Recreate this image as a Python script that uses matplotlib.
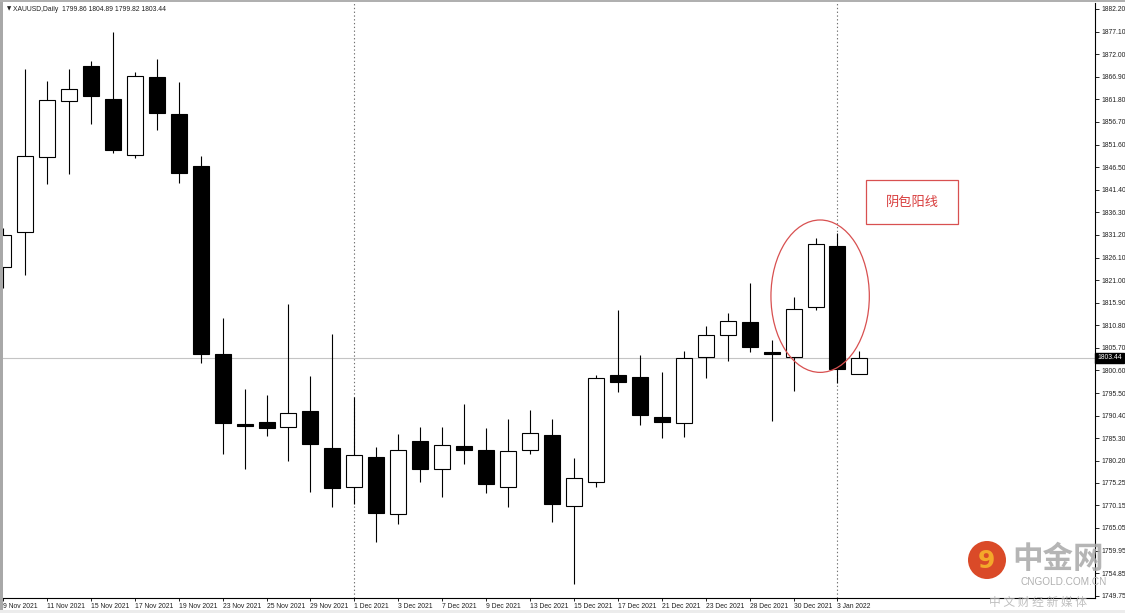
import matplotlib
matplotlib.use("Agg")
import matplotlib.pyplot as plt
import matplotlib.transforms as mtransforms
from matplotlib.patches import Ellipse, Rectangle

plt.rcParams['font.family'] = ['Liberation Sans', 'Noto Sans CJK SC', 'DejaVu Sans']

# ============================
# DATA (XAUUSD Daily)
# ============================
dates = ["9 Nov 2021", "10 Nov 2021", "11 Nov 2021", "12 Nov 2021", "15 Nov 2021",
         "16 Nov 2021", "17 Nov 2021", "18 Nov 2021", "19 Nov 2021", "22 Nov 2021",
         "23 Nov 2021", "24 Nov 2021", "25 Nov 2021", "26 Nov 2021", "29 Nov 2021",
         "30 Nov 2021", "1 Dec 2021", "2 Dec 2021", "3 Dec 2021", "6 Dec 2021",
         "7 Dec 2021", "8 Dec 2021", "9 Dec 2021", "10 Dec 2021", "13 Dec 2021",
         "14 Dec 2021", "15 Dec 2021", "16 Dec 2021", "17 Dec 2021", "20 Dec 2021",
         "21 Dec 2021", "22 Dec 2021", "23 Dec 2021", "24 Dec 2021", "28 Dec 2021",
         "29 Dec 2021", "30 Dec 2021", "31 Dec 2021", "3 Jan 2022", "4 Jan 2022"]

opens = [1823.96, 1831.86, 1848.79, 1861.50, 1869.40, 1861.95, 1849.31, 1866.78, 1858.57, 1846.76,
         1804.32, 1788.52, 1788.91, 1787.78, 1791.52, 1783.04, 1774.37, 1781.14, 1768.14, 1784.75,
         1778.30, 1783.62, 1782.59, 1774.23, 1782.59, 1786.11, 1770.01, 1775.36, 1799.58, 1799.13,
         1790.03, 1788.68, 1803.71, 1808.54, 1811.48, 1804.84, 1803.71, 1815.00, 1828.70, 1799.86]
highs = [1832.76, 1868.66, 1866.02, 1868.66, 1870.53, 1877.08, 1867.91, 1870.85, 1865.72, 1849.02,
         1812.38, 1796.35, 1795.14, 1815.54, 1799.36, 1808.77, 1794.55, 1783.40, 1786.26, 1787.78,
         1787.91, 1793.04, 1787.69, 1789.65, 1791.68, 1789.65, 1780.85, 1799.58, 1814.26, 1804.10,
         1800.33, 1805.00, 1810.71, 1813.51, 1820.28, 1807.48, 1817.12, 1830.44, 1831.57, 1804.89]
lows = [1819.22, 1822.16, 1842.77, 1844.95, 1856.17, 1849.63, 1848.63, 1854.89, 1842.86, 1802.22,
        1781.75, 1778.30, 1785.81, 1780.24, 1773.24, 1769.72, 1770.50, 1761.82, 1765.95, 1775.36,
        1772.11, 1779.56, 1772.88, 1769.85, 1781.68, 1766.47, 1752.41, 1774.23, 1795.81, 1788.30,
        1785.36, 1785.66, 1798.84, 1802.81, 1804.84, 1789.27, 1796.04, 1814.26, 1797.71, 1799.82]
closes = [1831.18, 1849.02, 1861.66, 1864.07, 1862.56, 1850.30, 1867.01, 1858.66, 1845.25, 1804.32,
          1788.68, 1788.07, 1787.69, 1790.94, 1784.01, 1774.01, 1781.46, 1768.50, 1782.59, 1778.36,
          1783.78, 1782.65, 1774.98, 1782.36, 1786.42, 1770.53, 1776.40, 1798.97, 1797.93, 1790.49,
          1788.91, 1803.35, 1808.54, 1811.77, 1805.97, 1804.39, 1814.41, 1829.15, 1800.94, 1803.44]

price_ticks = [1882.20, 1877.10, 1872.00, 1866.90, 1861.80, 1856.70, 1851.60, 1846.50, 1841.40,
               1836.30, 1831.20, 1826.10, 1821.00, 1815.90, 1810.80, 1805.70, 1800.60, 1795.50,
               1790.40, 1785.30, 1780.20, 1775.25, 1770.15, 1765.05, 1759.95, 1754.85, 1749.75]

separators = ["1 Dec 2021", "3 Jan 2022"]
pattern_bars = ["31 Dec 2021", "3 Jan 2022"]
pattern_label = "阴包阳线"
last_price = closes[-1]

# ============================
# FIGURE
# ============================
W, H = 1125, 613
fig = plt.figure(figsize=(W / 100, H / 100), dpi=100)
fig.patch.set_facecolor("white")

ax_l, ax_r, ax_t, ax_b = 3, 1095, 3, 598
ax = fig.add_axes([ax_l / W, (H - ax_b) / H, (ax_r - ax_l) / W, (ax_b - ax_t) / H])

x = list(range(len(dates)))
body_w = 0.73

# wicks
ax.vlines(x, lows, highs, color="black", lw=0.8, zorder=2)

# bodies
for i in x:
    o, c = opens[i], closes[i]
    lo = min(o, c)
    h = max(abs(c - o), 0.25)
    fc = "white" if c >= o else "black"
    ax.bar(i, h, bottom=lo, width=body_w, facecolor=fc, edgecolor="black", lw=0.8, zorder=3)

# current price line
ax.axhline(last_price, color="#c4c4c4", lw=0.8, zorder=1)

# period separators
for d in separators:
    ax.axvline(dates.index(d), color="#707070", lw=0.8, ls=(0, (1.2, 2.2)), zorder=1)

ax.set_xlim(-0.0, (ax_r - ax_l - 0.5) / 21.95)
ax.set_ylim(1749.24, 1883.55)

# axes style
for s in ["top", "left"]:
    ax.spines[s].set_visible(False)
ax.spines["right"].set_color("black")
ax.spines["bottom"].set_color("black")
ax.spines["right"].set_linewidth(0.8)
ax.spines["bottom"].set_linewidth(0.8)

ax.yaxis.tick_right()
ax.set_yticks(price_ticks)
ax.set_yticklabels([f"{v:.2f}" for v in price_ticks])
ax.tick_params(axis="y", direction="out", length=3, width=0.6, labelsize=4.9, pad=1.5,
               labelcolor="#202020")

ax.set_xticks(x[::2])
ax.set_xticklabels(dates[::2], ha="left")
ax.tick_params(axis="x", direction="out", length=2, width=0.6, labelsize=4.9, pad=1.5,
               labelcolor="#202020")

# price label on axis
trans = mtransforms.blended_transform_factory(ax.transAxes, ax.transData)
ax.text(1.002, last_price, f"{last_price:.2f}", transform=trans, ha="left", va="center",
        fontsize=4.9, color="white",
        bbox=dict(boxstyle="square,pad=0.25", facecolor="black", edgecolor="black"))

# header
ax.text(0.004, 0.994, "▼", transform=ax.transAxes, ha="left", va="top", fontsize=4,
        family=["DejaVu Sans"], color="#202020")
ax.text(0.0095, 0.995,
        f"XAUUSD,Daily  {opens[-1]:.2f} {highs[-1]:.2f} {lows[-1]:.2f} {closes[-1]:.2f}",
        transform=ax.transAxes, ha="left", va="top", fontsize=4.9, color="#202020")

# engulfing pattern annotation
i0, i1 = dates.index(pattern_bars[0]), dates.index(pattern_bars[1])
ell_cx = (i0 + i1) / 2 - 0.29
ax.add_patch(Ellipse((ell_cx, 1817.37), width=4.48, height=34.4, fill=False,
                     edgecolor="#d85050", lw=0.9, zorder=4))
ax.add_patch(Rectangle((39.29, 1833.67), 4.2, 9.93, facecolor="white",
                       edgecolor="#d85050", lw=0.9, zorder=4))
ax.text(39.29 + 2.1, 1838.5, pattern_label, ha="center", va="center", fontsize=9.5,
        color="#d83c3c", family=["Noto Sans CJK SC"], zorder=5)

# frame borders
fig.patches.append(Rectangle((0, 0), 2.5 / W, 1, transform=fig.transFigure,
                             facecolor="#a8a8a8", edgecolor="none"))
fig.patches.append(Rectangle((0, 1 - 2 / H), 1, 2 / H, transform=fig.transFigure,
                             facecolor="#b0b0b0", edgecolor="none"))
fig.patches.append(Rectangle((0, 0), 1, 3 / H, transform=fig.transFigure,
                             facecolor="#ececec", edgecolor="none"))

# watermark
fig.patches.append(Ellipse((987 / W, 1 - 560 / H), 38 / W, 38 / H, transform=fig.transFigure,
                           facecolor="#d8401c", edgecolor="none", alpha=0.95))
fig.text(986 / W, 1 - 561 / H, "9", ha="center", va="center", fontsize=18,
         fontweight="bold", color="#f4a82a", family=["DejaVu Sans"])
fig.text(1058 / W, 1 - 559 / H, "中金网", ha="center", va="center", fontsize=22,
         fontweight="bold", color="#a8a8a8", alpha=0.85, family=["Noto Sans CJK SC"])
fig.text(1064 / W, 1 - 582 / H, "CNGOLD.COM.CN", ha="center", va="center", fontsize=7.2,
         color="#b0b0b0", family=["Liberation Sans"])
fig.text(1038 / W, 1 - 602 / H, "中 文 财 经 新 媒 体", ha="center", va="center", fontsize=8.5,
         color="#b4b4b4", alpha=0.85, family=["Noto Sans CJK SC"])

plt.savefig("out.png", dpi=100)
